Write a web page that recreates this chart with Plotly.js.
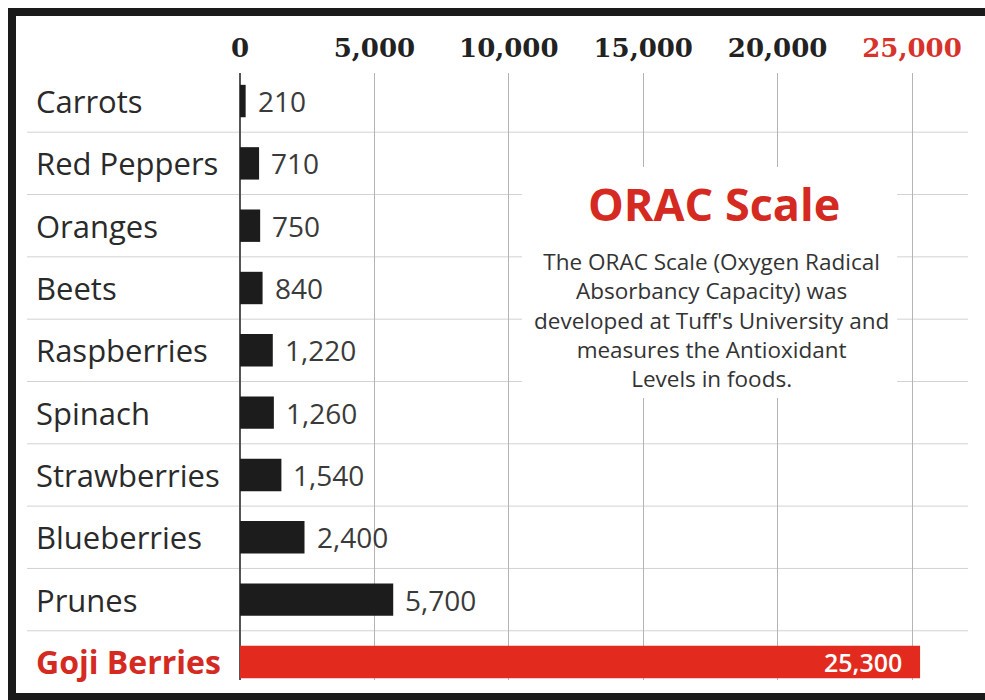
<!DOCTYPE html>
<html>
<head>
<meta charset="utf-8">
<script src="https://cdn.plot.ly/plotly-3.0.1.min.js"></script>
<style>html,body{margin:0;padding:0;background:#fff;overflow:hidden;}#chart{width:985px;height:700px;overflow:hidden;}</style>
</head>
<body>
<div id="chart"></div>
<script>
// ---- data ----
const categories = ["Carrots","Red Peppers","Oranges","Beets","Raspberries","Spinach","Strawberries","Blueberries","Prunes","Goji Berries"];
const oracValues = [210, 710, 750, 840, 1220, 1260, 1540, 2400, 5700, 25300];
const tickValues = [0, 5000, 10000, 15000, 20000, 25000];
const tickLabels = ["0", "5,000", "10,000", "15,000", "20,000", "25,000"];
const highlightCategory = "Goji Berries";
const titleText = "ORAC Scale";
const descText = "The ORAC Scale (Oxygen Radical<br>Absorbancy Capacity) was<br>developed at Tuff's University and<br>measures the Antioxidant<br>Levels in foods.";

// ---- layout geometry (pixels) ----
const W = 985, H = 700;
const L = 240, R = 968, T = 73, B = 680;
const px = x => (x - L) / (R - L);
const py = y => (B - y) / (B - T);

const RED = "#e32a1e";
const TEXTRED = "#d42a22";
const labelFont = "'Open Sans', 'Noto Sans', sans-serif";

const isHi = categories.map(c => c === highlightCategory);

const trace = {
  type: "bar",
  orientation: "h",
  y: categories,
  x: oracValues,
  marker: { color: isHi.map(h => h ? RED : "#1c1c1c") },
  hoverinfo: "x+y"
};

const annotations = [];
categories.forEach((c, i) => {
  annotations.push({
    xref: "paper", yref: "y", x: px(34), y: c, xanchor: "left", yanchor: "middle",
    text: isHi[i] ? "<b>" + c + "</b>" : c, showarrow: false,
    font: { family: labelFont, size: isHi[i] ? 32 : 31, color: isHi[i] ? TEXTRED : "#2a2a2a" }
  });
  const v = oracValues[i].toLocaleString("en-US");
  annotations.push(isHi[i] ? {
    xref: "x", yref: "y", x: oracValues[i], y: c, xanchor: "right", yanchor: "middle",
    xshift: -16, text: v, showarrow: false,
    font: { family: labelFont, size: 25, color: "#ffffff", weight: 600 }
  } : {
    xref: "x", yref: "y", x: oracValues[i], y: c, xanchor: "left", yanchor: "middle",
    xshift: 10, text: v, showarrow: false,
    font: { family: labelFont, size: 28, color: "#3a3a3a" }
  });
});
annotations.push({
  xref: "paper", yref: "paper", x: px(714), y: py(203), xanchor: "center", yanchor: "middle",
  text: "<b>" + titleText + "</b>", showarrow: false,
  font: { family: labelFont, size: 45, color: TEXTRED }
});
annotations.push({
  xref: "paper", yref: "paper", x: px(711), y: py(320), xanchor: "center", yanchor: "middle",
  text: descText, showarrow: false, align: "center",
  font: { family: labelFont, size: 22.5, color: "#333333" }
});

const shapes = [];
// row separators
for (let i = 0; i < categories.length - 1; i++) {
  shapes.push({ type: "line", xref: "paper", yref: "y", x0: px(27), x1: 1, y0: i + 0.5, y1: i + 0.5,
    line: { color: "#d2d2d2", width: 1 }, layer: "below" });
}
// white box behind text
shapes.push({ type: "rect", xref: "paper", yref: "paper", x0: px(522), x1: px(897), y0: py(398), y1: py(167),
  fillcolor: "#ffffff", line: { width: 0 }, layer: "above" });
// frame
shapes.push({ type: "rect", xref: "paper", yref: "paper", x0: px(8), x1: px(16), y0: py(700), y1: py(8), fillcolor: "#1a1a1a", line: { width: 0 } });
shapes.push({ type: "rect", xref: "paper", yref: "paper", x0: px(8), x1: px(985), y0: py(16), y1: py(8), fillcolor: "#1a1a1a", line: { width: 0 } });
shapes.push({ type: "rect", xref: "paper", yref: "paper", x0: px(8), x1: px(985), y0: py(700), y1: py(693), fillcolor: "#1a1a1a", line: { width: 0 } });

const layout = {
  width: W, height: H,
  margin: { l: L, r: W - R, t: T, b: H - B, pad: 0 },
  paper_bgcolor: "#ffffff", plot_bgcolor: "#ffffff",
  showlegend: false,
  bargap: 0.48,
  xaxis: {
    side: "top", range: [0, 25000 * (R - L) / (912 - L)],
    tickvals: tickValues,
    ticktext: tickLabels.map((t, i) => i === tickLabels.length - 1 ? '<span style="color:#d8332b">' + t + '</span>' : t),
    tickfont: { family: "'DejaVu Serif', 'Liberation Serif', serif", size: 26, color: "#222222", weight: "bold" },
    ticks: "", ticklabelstandoff: 10,
    showgrid: true, gridcolor: "#b4b4b4", gridwidth: 1,
    zeroline: true, zerolinecolor: "#555555", zerolinewidth: 1.5,
    showline: false, fixedrange: true
  },
  yaxis: {
    type: "category", autorange: false, range: [9.29, -0.45],
    showticklabels: false, ticks: "", showgrid: false, zeroline: false, showline: false, fixedrange: true
  },
  annotations: annotations,
  shapes: shapes
};

Plotly.newPlot("chart", [trace], layout, { displayModeBar: false, staticPlot: true });
</script>
</body>
</html>
